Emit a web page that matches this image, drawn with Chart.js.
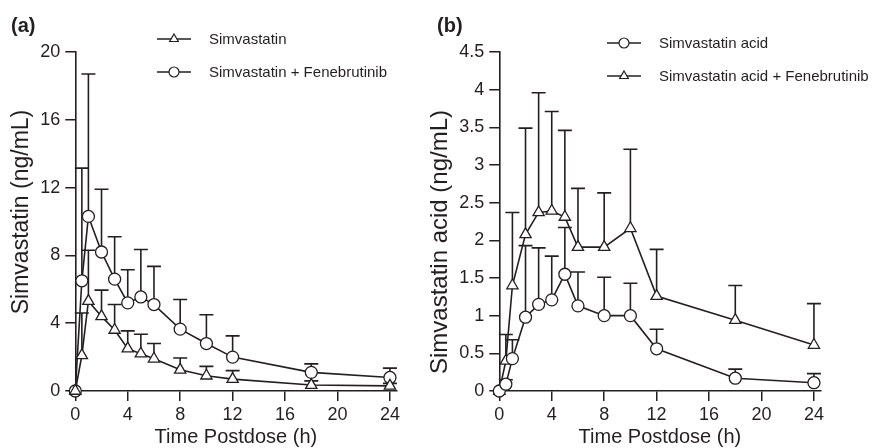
<!DOCTYPE html>
<html>
<head>
<meta charset="utf-8">
<script src="https://cdn.jsdelivr.net/npm/chart.js@4/dist/chart.umd.min.js"></script>
<style>
    body { margin: 0; background: #fff; width: 878px; height: 448px; overflow: hidden; position: relative; }
    canvas { position: absolute; top: 0; }
    #chart-a { left: 0; }
    #chart-b { left: 430px; }
</style>
</head>
<body>
<canvas id="chart-a" width="440" height="448"></canvas>
<canvas id="chart-b" width="448" height="448"></canvas>
<script>
// Time points (h)
const timePoints = [0, 0.5, 1, 2, 3, 4, 5, 6, 8, 10, 12, 18, 24];
const xTicks = [0, 4, 8, 12, 16, 20, 24];

// Panel (a) - simvastatin (ng/mL), mean and mean + SD
const simvastatin = [0, 2.1, 5.3, 4.4, 3.6, 2.5, 2.2, 1.9, 1.25, 0.9, 0.7, 0.35, 0.3];
const simvastatinUpper = [0, 4.6, 8.3, 5.95, 5.1, 3.55, 3.35, 2.8, 1.95, 1.45, 1.2, 0.6, 0.45];
const simvastatinFene = [0, 6.5, 10.3, 8.2, 6.6, 5.2, 5.55, 5.1, 3.65, 2.8, 2.0, 1.1, 0.8];
const simvastatinFeneUpper = [0, 13.15, 18.7, 11.9, 9.1, 7.15, 8.35, 7.35, 5.4, 4.5, 3.25, 1.6, 1.35];
const aYTicks = [0, 4, 8, 12, 16, 20];

// Panel (b) - simvastatin acid (ng/mL), mean and mean + SD
const acid = [0, 0.09, 0.43, 0.98, 1.15, 1.21, 1.55, 1.13, 1.0, 1.0, 0.56, 0.17, 0.11];
const acidUpper = [0, 0.15, 0.68, 1.93, 1.9, 1.79, 2.17, 1.58, 1.51, 1.43, 0.82, 0.29, 0.23];
const acidFene = [0, 0.4, 1.4, 2.08, 2.37, 2.39, 2.31, 1.91, 1.91, 2.16, 1.26, 0.94, 0.61];
const acidFeneUpper = [0, 0.75, 2.37, 3.49, 3.96, 3.71, 3.46, 2.69, 2.63, 3.21, 1.88, 1.4, 1.16];
const bYTicks = [0, 0.5, 1, 1.5, 2, 2.5, 3, 3.5, 4, 4.5];

const INK = '#231f20';
const FONT = '"Liberation Sans", Arial, Helvetica, sans-serif';

function toPoints(values) {
    return values.map((v, i) => ({ x: timePoints[i], y: v }));
}

function series(label, values, upper, style) {
    return {
        label: label,
        data: toPoints(values),
        upper: upper,
        borderColor: INK,
        backgroundColor: '#fff',
        borderWidth: 1.6,
        pointStyle: style,
        pointRadius: style === 'triangle' ? 6.5 : 6,
        pointBorderWidth: 1.3,
        pointBorderColor: INK,
        pointBackgroundColor: '#fff',
        tension: 0,
        clip: false
    };
}

// Upper error bars (mean + SD) with caps, drawn behind the lines/markers
const errorBars = {
    id: 'errorBars',
    beforeDatasetsDraw(chart) {
        const { ctx, scales: { x, y } } = chart;
        ctx.save();
        ctx.strokeStyle = INK;
        ctx.lineWidth = 1.6;
        chart.data.datasets.forEach(ds => {
            ds.upper.forEach((u, i) => {
                const p = ds.data[i];
                if (u <= p.y) return;
                const px = x.getPixelForValue(p.x);
                const y0 = y.getPixelForValue(p.y);
                const y1 = y.getPixelForValue(u);
                ctx.beginPath();
                ctx.moveTo(px, y0);
                ctx.lineTo(px, y1);
                ctx.moveTo(px - 7, y1);
                ctx.lineTo(px + 7, y1);
                ctx.stroke();
            });
        });
        ctx.restore();
    }
};

// Panel tag, rotated y title and the line+marker legend
const decorations = {
    id: 'decorations',
    afterDraw(chart, args, opts) {
        const ctx = chart.ctx;
        ctx.save();
        ctx.fillStyle = INK;

        ctx.font = 'bold 20px ' + FONT;
        ctx.textBaseline = 'alphabetic';
        ctx.textAlign = 'left';
        ctx.fillText(opts.tag, opts.tagX, 32);

        ctx.save();
        ctx.translate(opts.yTitleX, opts.yTitleY);
        ctx.rotate(-Math.PI / 2);
        ctx.font = opts.yTitleSize + 'px ' + FONT;
        ctx.textAlign = 'center';
        ctx.textBaseline = 'middle';
        ctx.fillText(opts.yTitle, 0, 0);
        ctx.restore();

        ctx.font = '15px ' + FONT;
        ctx.textBaseline = 'middle';
        chart.data.datasets.forEach((ds, i) => {
            const ly = opts.legendY[i];
            ctx.strokeStyle = INK;
            ctx.lineWidth = 1.5;
            ctx.beginPath();
            ctx.moveTo(opts.legendX, ly);
            ctx.lineTo(opts.legendX + 34, ly);
            ctx.stroke();
            ctx.fillStyle = '#fff';
            ctx.lineWidth = 1.2;
            Chart.helpers.drawPoint(ctx, {
                pointStyle: ds.pointStyle,
                radius: 5,
                borderWidth: 1.2
            }, opts.legendX + 17, ly);
            ctx.fillStyle = INK;
            ctx.fillText(ds.label, opts.legendX + 52, ly + 1);
        });
        ctx.restore();
    }
};

function makeChart(canvasId, datasets, yTicks, yMax, axisWidth, rightPad, deco) {
    const tickFont = { family: FONT, size: 18 };
    return new Chart(document.getElementById(canvasId), {
        type: 'line',
        data: { datasets: datasets },
        plugins: [errorBars, decorations],
        options: {
            responsive: false,
            animation: false,
            layout: { padding: { top: 52, right: rightPad, left: 0, bottom: 0 } },
            scales: {
                x: {
                    type: 'linear',
                    min: 0,
                    max: 24.5,
                    afterBuildTicks: scale => { scale.ticks = xTicks.map(v => ({ value: v })); },
                    afterFit: scale => { scale.height = 57; },
                    ticks: { color: INK, font: tickFont, padding: 3, maxRotation: 0, callback: v => String(v) },
                    grid: { drawOnChartArea: false, drawTicks: true, tickLength: 10, color: INK, lineWidth: 1.5 },
                    border: { display: true, color: INK, width: 1.6 },
                    title: {
                        display: true,
                        text: 'Time Postdose (h)',
                        color: INK,
                        font: { family: FONT, size: 20 },
                        padding: { top: 0, bottom: -1 }
                    }
                },
                y: {
                    min: 0,
                    max: yMax,
                    afterBuildTicks: scale => { scale.ticks = yTicks.map(v => ({ value: v })); },
                    afterFit: scale => { scale.width = axisWidth; },
                    ticks: { color: INK, font: tickFont, padding: 5, callback: v => String(v) },
                    grid: { drawOnChartArea: false, drawTicks: true, tickLength: 10, color: INK, lineWidth: 1.5 },
                    border: { display: true, color: INK, width: 1.6 }
                }
            },
            plugins: {
                legend: { display: false },
                tooltip: { enabled: false },
                decorations: deco
            }
        }
    });
}

makeChart('chart-a', [
    series('Simvastatin', simvastatin, simvastatinUpper, 'triangle'),
    series('Simvastatin + Fenebrutinib', simvastatinFene, simvastatinFeneUpper, 'circle')
], aYTicks, 20, 75.3, 43.5, {
    tag: '(a)', tagX: 11,
    yTitle: 'Simvastatin (ng/mL)', yTitleSize: 23, yTitleX: 22, yTitleY: 212,
    legendX: 157, legendY: [39, 72]
});

makeChart('chart-b', [
    series('Simvastatin acid', acid, acidUpper, 'circle'),
    series('Simvastatin acid + Fenebrutinib', acidFene, acidFeneUpper, 'triangle')
], bYTicks, 4.5, 69.3, 57.5, {
    tag: '(b)', tagX: 7,
    yTitle: 'Simvastatin acid (ng/mL)', yTitleSize: 24, yTitleX: 10, yTitleY: 242,
    legendX: 177, legendY: [43, 76]
});
</script>
</body>
</html>
